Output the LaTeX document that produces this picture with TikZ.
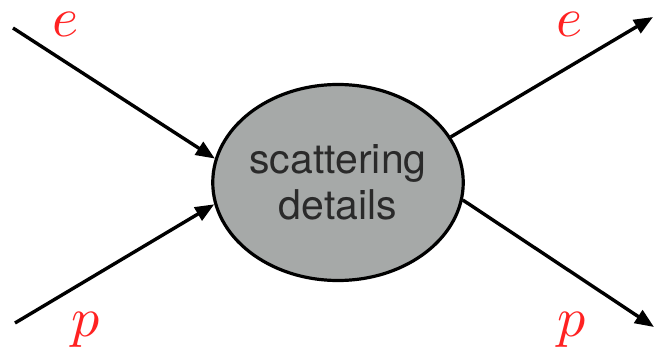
\documentclass[tikz,border=0pt]{standalone}
\usepackage{graphicx}
\usepackage{fontspec}
\newfontfamily\helv{TeX Gyre Heros}
\usetikzlibrary{shapes.geometric,arrows.meta}
\definecolor{blobgray}{HTML}{A6A9A8}
\definecolor{lblred}{HTML}{FF2222}
\definecolor{txtdark}{HTML}{2A2A2A}
\newcommand{\biglbl}[1]{\scalebox{5.6}{$#1$}}
\tikzset{
  blob/.style={ellipse,draw=black,line width=3.2pt,fill=blobgray,minimum width=243pt,minimum height=196pt,inner sep=0pt,align=center,text=txtdark,font=\helv\fontsize{41}{46}\selectfont},
  leg/.style={line width=3.4pt,-{Triangle[length=19pt,width=15pt]}},
  lbl/.style={text=lblred,anchor=base,inner sep=0pt}
}
\begin{document}
\begin{tikzpicture}[x=1pt,y=1pt]
\useasboundingbox (0,0) rectangle (656,354);
\node[blob] (ell) at (338,171.5) {scattering\\details};
\coordinate (inE) at (13,326);
\coordinate (inP) at (15,31);
\coordinate (outE) at (653,337);
\coordinate (outP) at (654,27);
\draw[leg] (inE) -- (ell.169);
\draw[leg] (inP) -- (ell.190);
\draw[leg] (ell.22) -- (outE);
\draw[leg] (ell.-8) -- (outP);
\node[lbl] (le) at (65.5,317) {\biglbl{e}};
\node[lbl] (lp) at (86,18) {\biglbl{p}};
\node[lbl] (re) at (570,317) {\biglbl{e}};
\node[lbl] (rp) at (571.5,18) {\biglbl{p}};
\end{tikzpicture}
\end{document}
